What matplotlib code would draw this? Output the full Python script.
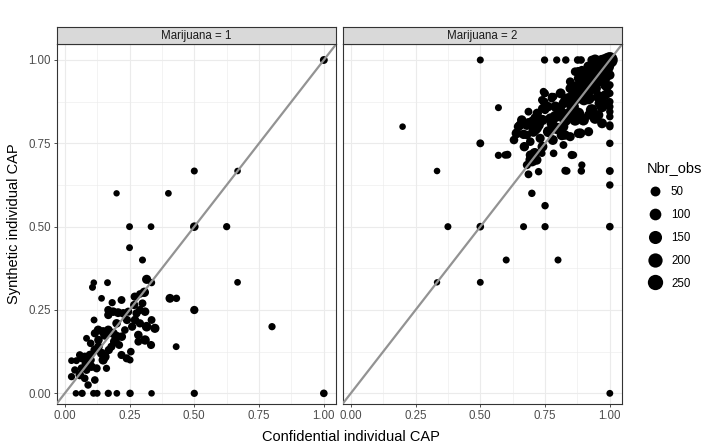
import numpy as np
import matplotlib
matplotlib.use("Agg")
import matplotlib.pyplot as plt
from matplotlib.lines import Line2D

plt.rcParams['font.family'] = ['Liberation Sans', 'DejaVu Sans']

# Marijuana = 1
x1 = [1.0, 1.0, 0.5, 0.667, 0.2, 0.4, 0.25, 0.333, 0.5, 0.625, 0.25, 0.3, 0.8, 0.667, 0.5, 0.5,
      0.43, 0.406, 0.431,
      0.043, 0.067, 0.111, 0.125, 0.168, 0.201, 0.252, 0.335,
      0.316, 0.335, 0.112, 0.107, 0.165, 0.142, 0.183, 0.219, 0.307, 0.29, 0.268, 0.29, 0.168,
      0.187, 0.206, 0.226, 0.168, 0.245, 0.31, 0.277, 0.335, 0.271, 0.29, 0.316, 0.348, 0.113,
      0.129, 0.148, 0.168, 0.187, 0.155, 0.116, 0.2, 0.193, 0.232, 0.084, 0.284, 0.31, 0.284,
      0.333, 0.255, 0.219, 0.239, 0.252, 0.142, 0.155, 0.148, 0.116, 0.097, 0.077, 0.065, 0.058,
      0.026, 0.045, 0.039, 0.065, 0.084, 0.103, 0.123, 0.161, 0.026, 0.058, 0.077, 0.09, 0.116,
      0.13, 0.1, 0.18, 0.21,
      0.2, 0.24, 0.13, 0.17, 0.22, 0.26, 0.1, 0.08, 0.27, 0.3]
y1 = [1.0, 0.0, 0.667, 0.667, 0.6, 0.6, 0.5, 0.5, 0.5, 0.5, 0.437, 0.4, 0.2, 0.333, 0.25, 0.0,
      0.14, 0.285, 0.285,
      0.0, 0.0, 0.0, 0.0, 0.0, 0.0, 0.0, 0.0,
      0.342, 0.332, 0.332, 0.318, 0.332, 0.285, 0.272, 0.28, 0.303, 0.298, 0.265, 0.25, 0.25,
      0.245, 0.242, 0.24, 0.235, 0.245, 0.245, 0.24, 0.22, 0.22, 0.21, 0.2, 0.195, 0.22,
      0.19, 0.185, 0.19, 0.18, 0.175, 0.18, 0.17, 0.155, 0.19, 0.165, 0.175, 0.16, 0.155,
      0.145, 0.125, 0.115, 0.105, 0.1, 0.12, 0.11, 0.1, 0.13, 0.115, 0.11, 0.105, 0.115,
      0.098, 0.098, 0.07, 0.075, 0.07, 0.08, 0.075, 0.075, 0.05, 0.055, 0.045, 0.025, 0.04,
      0.14, 0.15, 0.14, 0.145,
      0.21, 0.22, 0.16, 0.13, 0.17, 0.2, 0.1, 0.09, 0.29, 0.27]
n1 = [15, 12, 6, 3, 2, 4, 5, 4, 25, 8, 5, 6, 8, 4, 20, 8,
      5, 30, 10,
      3, 8, 5, 5, 8, 4, 10, 3,
      35, 8, 3, 6, 5, 4, 8, 15, 40, 12, 20, 18, 18,
      25, 30, 25, 20, 18, 25, 20, 15, 25, 20, 45, 35, 5,
      30, 35, 30, 35, 40, 18, 50, 45, 12, 5, 25, 40, 15,
      18, 12, 18, 18, 6, 35, 40, 35, 30, 25, 18, 15, 12,
      4, 6, 10, 18, 15, 25, 18, 8, 8, 25, 12, 10, 12,
      25, 12, 18, 15,
      25, 20, 25, 20, 25, 20, 20, 15, 20, 15]

# Marijuana = 2
x2 = [0.2, 0.333, 0.5, 0.5, 0.57, 0.57, 0.605, 0.333, 0.375, 0.5, 0.667, 0.75, 1.0, 0.75, 0.6,
      0.8, 0.5, 1.0, 0.699, 0.834, 0.892, 0.89, 0.686, 0.725, 0.783, 0.738, 0.86, 0.821,
      0.748, 0.795, 0.83, 0.876, 0.889, 0.93, 0.969, 1.0,
      1.0, 1.0, 1.0, 1.0, 1.0, 1.0, 1.0, 1.0, 1.0, 1.0, 1.0, 1.0,
      0.686, 0.744, 0.75, 0.776, 0.647, 0.667, 0.686, 0.712, 0.725, 0.705, 0.693, 0.731, 0.763,
      0.795, 0.815, 0.802, 0.828, 0.77, 0.699, 0.68, 0.654, 0.719, 0.776, 0.866, 0.886, 0.918,
      0.847, 0.943, 0.918, 0.9, 0.879, 0.956, 0.976, 0.983, 0.93, 0.911, 0.943, 0.886, 0.866,
      0.847, 0.892, 0.873, 0.918, 0.956, 0.983, 0.97, 0.84, 0.821, 0.854, 0.75, 0.776, 0.808,
      0.789, 0.879, 0.898, 0.93, 0.943, 0.956, 0.97, 0.68, 0.7, 0.712, 0.828, 0.879, 0.918,
      0.744, 0.738, 0.738, 0.783, 0.866, 0.892, 0.93, 0.847, 0.879, 0.956, 0.982, 0.989, 0.596,
      0.748, 0.748, 0.68, 0.693, 0.718, 0.828, 0.853,
      0.64, 0.66, 0.72, 0.74, 0.76, 0.79, 0.81, 0.83, 0.86, 0.88, 0.9, 0.92, 0.95, 0.97,
      0.86, 0.9, 0.92, 0.94, 0.96, 0.84, 0.82, 0.78, 0.74, 0.71, 0.67, 0.63, 0.96, 0.98,
      0.99, 0.985]
y2 = [0.8, 0.667, 1.0, 0.75, 0.857, 0.714, 0.716, 0.333, 0.5, 0.5, 0.5, 0.5, 0.5, 0.563, 0.4,
      0.4, 0.333, 0.0, 0.6, 0.667, 0.685, 0.667, 0.657, 0.665, 0.72, 0.72, 0.715, 0.745,
      1.0, 1.0, 1.0, 1.0, 1.0, 1.0, 1.0, 1.0,
      0.955, 0.925, 0.9, 0.875, 0.86, 0.845, 0.83, 0.805, 0.75, 0.667, 0.625, 0.8,
      0.845, 0.875, 0.85, 0.89, 0.8, 0.777, 0.81, 0.825, 0.805, 0.785, 0.755, 0.765, 0.785,
      0.795, 0.775, 0.835, 0.82, 0.825, 0.7, 0.685, 0.805, 0.795, 0.81, 0.82, 0.78, 0.835,
      0.77, 1.0, 0.98, 0.96, 0.965, 0.97, 0.95, 0.925, 0.94, 0.92, 0.915, 0.94, 0.92,
      0.915, 0.9, 0.885, 0.885, 0.89, 0.895, 0.86, 0.885, 0.87, 0.86, 0.9, 0.885, 0.845,
      0.83, 0.84, 0.82, 0.85, 0.825, 0.835, 0.81, 0.805, 0.815, 0.79, 0.775, 0.78, 0.785,
      0.905, 0.88, 0.855, 0.89, 0.965, 0.97, 0.96, 0.935, 0.945, 0.935, 0.945, 0.92, 0.715,
      0.9, 0.875, 0.775, 0.715, 0.7, 0.668, 0.715,
      0.78, 0.82, 0.84, 0.82, 0.86, 0.86, 0.9, 0.88, 0.9, 0.92, 0.94, 0.96, 0.98, 0.98,
      0.86, 0.88, 0.91, 0.95, 0.95, 0.84, 0.8, 0.76, 0.74, 0.72, 0.74, 0.76, 0.87, 0.87,
      0.98, 1.0]
n2 = [3, 3, 6, 15, 6, 8, 15, 2, 6, 12, 6, 8, 12, 10, 6,
      6, 5, 5, 10, 10, 8, 10, 15, 10, 12, 8, 8, 15,
      8, 8, 10, 12, 12, 25, 60, 280,
      40, 12, 10, 10, 10, 10, 10, 10, 10, 15, 10, 10,
      15, 20, 20, 15, 35, 40, 65, 50, 65, 60, 25, 35, 80,
      90, 65, 100, 110, 50, 140, 20, 40, 45, 65, 90, 50, 35,
      35, 80, 65, 50, 40, 90, 80, 65, 110, 100, 100, 50, 65,
      40, 130, 90, 110, 90, 50, 80, 65, 50, 80, 12, 20, 100,
      90, 90, 80, 100, 80, 50, 50, 50, 50, 50, 40, 40, 35,
      12, 15, 15, 12, 25, 20, 50, 25, 40, 50, 65, 50, 10,
      15, 15, 25, 35, 40, 15, 20,
      50, 40, 40, 60, 50, 60, 50, 70, 70, 80, 70, 70, 90, 110,
      70, 70, 90, 80, 60, 60, 60, 50, 50, 70, 40, 25, 50, 40,
      170, 140]

legend_vals = [50, 100, 150, 200, 250]
panels = ["Marijuana = 1", "Marijuana = 2"]
ticks = [0.0, 0.25, 0.5, 0.75, 1.0]


def diam_px(v):
    # point diameter in pixels, area grows with Nbr_obs
    return 5.5 + 0.62 * np.sqrt(np.asarray(v, dtype=float))


W, H = 707, 446
fig = plt.figure(figsize=(W / 100, H / 100), dpi=100)

grey20 = '#333333'
lefts = [57, 343]
pw = 279
top, bot = 44, 404

data = [(x1, y1, n1), (x2, y2, n2)]
for i, (xs, ys, ns) in enumerate(data):
    ax = fig.add_axes([lefts[i] / W, 1 - bot / H, pw / W, (bot - top) / H])
    ax.set_xlim(-0.03, 1.047)
    ax.set_ylim(-0.032, 1.048)
    ax.set_facecolor('white')
    ax.set_xticks(ticks)
    ax.set_yticks(ticks)
    ax.set_xticks([0.125, 0.375, 0.625, 0.875], minor=True)
    ax.set_yticks([0.125, 0.375, 0.625, 0.875], minor=True)
    ax.grid(True, which='major', color='#EBEBEB', lw=0.8)
    ax.grid(True, which='minor', color='#EBEBEB', lw=0.4)
    ax.set_axisbelow(True)
    ax.tick_params(which='minor', length=0)
    ax.tick_params(which='major', length=2.5, width=0.6, color=grey20,
                   labelsize=8.3, labelcolor='#4D4D4D', pad=2)
    ax.set_xticklabels(['%.2f' % t for t in ticks])
    if i == 0:
        ax.set_yticklabels(['%.2f' % t for t in ticks])
    else:
        ax.tick_params(axis='y', length=0, labelleft=False)
    for sp in ax.spines.values():
        sp.set_color(grey20)
        sp.set_linewidth(0.8)

    s = (diam_px(ns) * 0.72) ** 2
    ax.scatter(xs, ys, s=s, c='black', linewidths=0, zorder=2)
    ax.plot([-0.1, 1.2], [-0.1, 1.2], color='#939393', lw=1.6, zorder=3)

    sax = fig.add_axes([lefts[i] / W, 1 - top / H, pw / W, 17 / H])
    sax.set_facecolor('#D9D9D9')
    sax.set_xticks([])
    sax.set_yticks([])
    for sp in sax.spines.values():
        sp.set_color(grey20)
        sp.set_linewidth(0.8)
    sax.text(0.5, 0.5, panels[i], ha='center', va='center', fontsize=8.3, color='#1A1A1A',
             transform=sax.transAxes)

fig.text(351 / W, 1 - 437 / H, 'Confidential individual CAP', ha='center', va='center',
         fontsize=10.5)
fig.text(14 / W, 1 - 224 / H, 'Synthetic individual CAP', ha='center', va='center',
         rotation=90, fontsize=10.5)

handles = [Line2D([], [], marker='o', ls='', color='black', markeredgewidth=0,
                  markersize=diam_px(v) * 0.72) for v in legend_vals]
leg = fig.legend(handles, [str(v) for v in legend_vals], title='Nbr_obs',
                 loc='upper left', bbox_to_anchor=(641 / W, 1 - 155 / H),
                 frameon=False, fontsize=8.3, title_fontsize=10.5, labelspacing=0.95,
                 handletextpad=0.7, handlelength=1.4, borderpad=0)
leg._legend_box.align = 'left'

fig.savefig('out.png', dpi=100)
